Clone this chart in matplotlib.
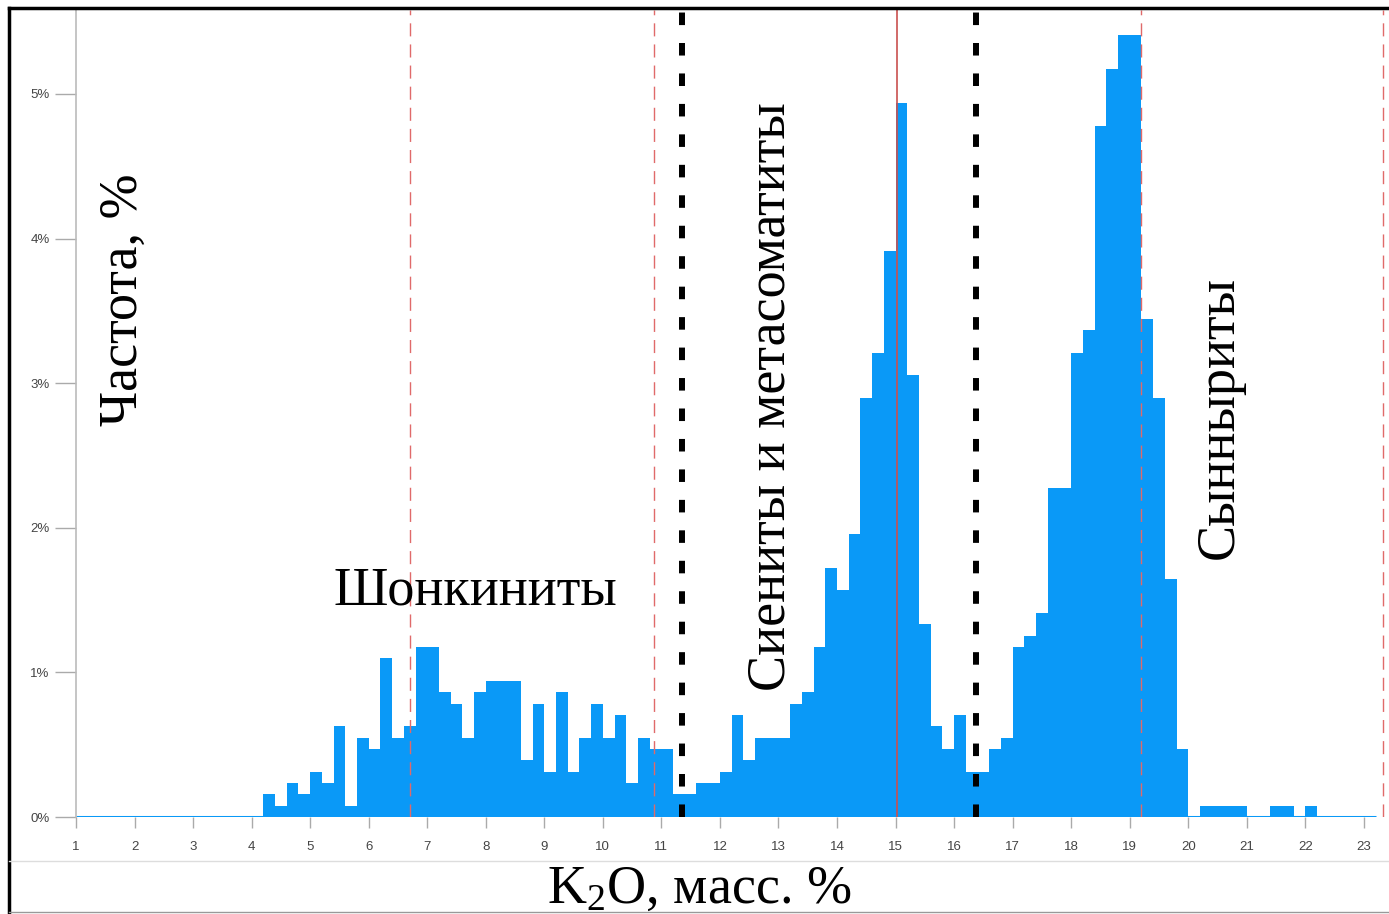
import numpy as np
import matplotlib.pyplot as plt
from matplotlib.lines import Line2D

# histogram of K2O content, bins of 0.2 starting at 4.2 (values in %)
bin_start = 4.2
bin_width = 0.2
freq_pct = [
    0.156, 0.078, 0.235, 0.156, 0.313, 0.235, 0.627, 0.078, 0.548, 0.470,  # 4.2 - 6.0
    1.097, 0.548, 0.627, 1.175, 1.175, 0.862, 0.783, 0.548, 0.862, 0.940,  # 6.2 - 8.0
    0.940, 0.940, 0.392, 0.783, 0.313, 0.862, 0.313, 0.548, 0.783, 0.548,  # 8.2 - 10.0
    0.705, 0.235, 0.548, 0.470, 0.470, 0.156, 0.156, 0.235, 0.235, 0.313,  # 10.2 - 12.0
    0.705, 0.392, 0.548, 0.548, 0.548, 0.783, 0.862, 1.175, 1.723, 1.567,  # 12.2 - 14.0
    1.958, 2.898, 3.211, 3.916, 4.935, 3.055, 1.332, 0.627, 0.470, 0.705,  # 14.2 - 16.0
    0.313, 0.313, 0.470, 0.548, 1.175, 1.253, 1.410, 2.272, 2.272, 3.211,  # 16.2 - 18.0
    3.368, 4.779, 5.170, 5.405, 5.405, 3.446, 2.898, 1.645, 0.470, 0.0,    # 18.2 - 20.0
    0.078, 0.078, 0.078, 0.078, 0.0, 0.0, 0.078, 0.078, 0.0, 0.078,        # 20.2 - 22.0
]
hist_min = 1.0
hist_max = 23.2

# boundary lines
red_dashed = [6.70, 10.87, 19.19, 23.33]
red_solid = [15.02]
black_dotted = [11.35, 16.38]

x_ticks = list(range(1, 24))
y_ticks = [0, 1, 2, 3, 4, 5]
y_ticklabels = ['0%', '1%', '2%', '3%', '4%', '5%']

labels = ['Шонкиниты', 'Сиениты и метасоматиты', 'Сынныриты']
ylabel = 'Частота, %'
xlabel = '$\\mathregular{K_2O}$, масс. %'

blue = '#0a99f7'
serif = 'Liberation Serif'

plt.rcParams['font.family'] = ['Liberation Sans', 'DejaVu Sans']

W, H = 1389, 914
fig = plt.figure(figsize=(W / 100, H / 100), dpi=100)
ax = fig.add_axes([76 / W, 97 / H, 1313 / W, 807 / H])

edges = bin_start + bin_width * np.arange(len(freq_pct))
ax.bar(edges, freq_pct, width=bin_width, align='edge', color=blue, linewidth=0, zorder=2)
ax.plot([hist_min, hist_max], [0, 0], color=blue, lw=2.2, solid_capstyle='butt', zorder=2)

for x in red_dashed:
    ax.axvline(x, color='#e06a6a', lw=1.0, dashes=(9.4, 5.8), zorder=3)
for x in red_solid:
    ax.axvline(x, color='#c9504f', lw=1.2, zorder=3)
for x in black_dotted:
    ax.axvline(x, color='black', lw=4.3, dashes=(2.1, 3.0), zorder=4)

ax.set_xlim(1, 23.43)
ax.set_ylim(0, 5.58)
ax.set_xticks(x_ticks)
ax.set_yticks(y_ticks)
ax.set_yticklabels(y_ticklabels)

for s in ['top', 'right', 'bottom']:
    ax.spines[s].set_visible(False)
ax.spines['left'].set_color('#bbbbbb')
ax.spines['left'].set_linewidth(1.2)

ax.tick_params(axis='x', length=8, width=1, color='#aaaaaa', pad=9,
               labelsize=9.5, labelcolor='#444444')
ax.tick_params(axis='y', length=15, width=1, color='#aaaaaa', pad=4,
               labelsize=9.5, labelcolor='#444444')

# text labels inside the plot
ax.text(7.83, 1.47, labels[0], fontsize=39, family=serif, ha='center', va='baseline', zorder=5)
ax.text(12.87, 2.91, labels[1], fontsize=39, family=serif, rotation=90,
        ha='center', va='center', zorder=5)
ax.text(20.54, 2.76, labels[2], fontsize=39, family=serif, rotation=90,
        ha='center', va='center', zorder=5)
ax.text(1.81, 3.58, ylabel, fontsize=39, family=serif, rotation=90,
        ha='center', va='center', zorder=5)

fig.text(699 / W, 11 / H, xlabel, fontsize=39, family=serif, ha='center', va='baseline')

# outer frame
fig.add_artist(Line2D([9 / W, 1], [1 - 8 / H, 1 - 8 / H], color='black', lw=2.5))
fig.add_artist(Line2D([9 / W, 9 / W], [0, 1 - 8 / H], color='black', lw=2.5))
fig.add_artist(Line2D([9 / W, 1], [1 - 861 / H, 1 - 861 / H], color='#dddddd', lw=1))
fig.add_artist(Line2D([9 / W, 1], [2 / H, 2 / H], color='#999999', lw=1))

fig.savefig('out.png', dpi=100)
